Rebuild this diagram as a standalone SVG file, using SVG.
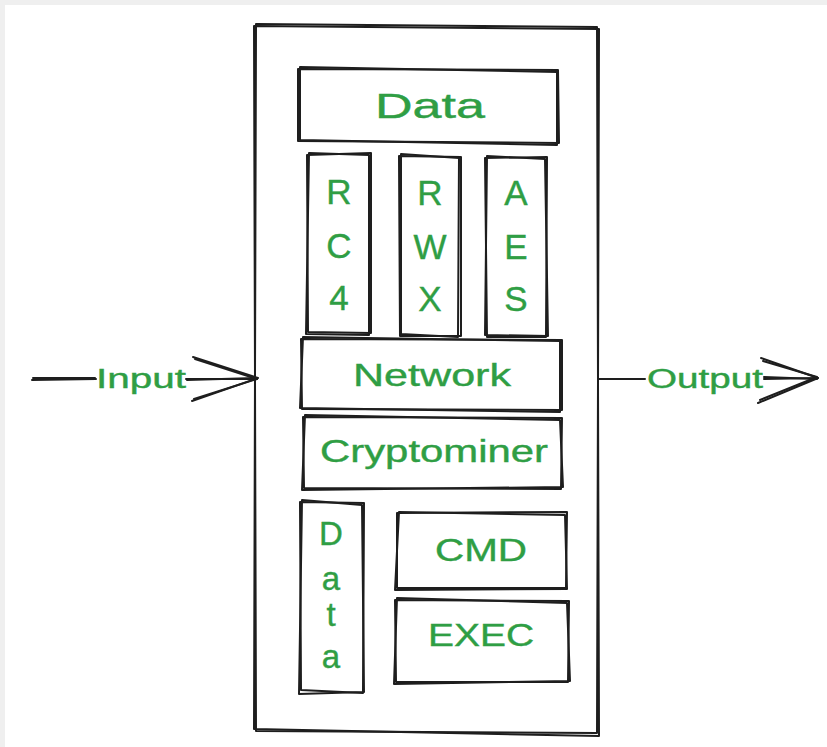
<svg xmlns="http://www.w3.org/2000/svg" width="827" height="747" viewBox="0 0 827 747">
<style>
.s{fill:none;stroke:#1e1e1e;stroke-width:2;stroke-linecap:round;stroke-linejoin:round}
.t{fill:#2f9e44;stroke:#2f9e44;stroke-width:0.4;font-family:"Liberation Sans","Noto Sans",sans-serif;text-anchor:middle}
.b{font-size:35px}
.m{font-size:32px}
.v{font-size:33px}
.l{font-size:27px}
</style>
<rect x="0" y="0" width="827" height="747" fill="#efefef"/>
<rect x="5" y="5" width="822" height="742" fill="#ffffff"/>
<g id="container">
<path class="s" d="M254 26 L599 29 L597 733 L256 731 Z"/>
<path class="s" d="M256 24 L597 27 L599 736 L254 729 Z"/>
</g>
<g id="data-top">
<path class="s" d="M298 69 L558 70 L559 143 L298 141 Z"/>
<path class="s" d="M300 67 L557 72 L557 145 L300 140 Z"/>
<text class="t b" x="430" y="118" textLength="110" lengthAdjust="spacingAndGlyphs">Data</text>
</g>
<g id="rc4">
<path class="s" d="M307 155 L371 153 L371 333 L308 332 Z"/>
<path class="s" d="M309 153 L369 155 L369 335 L306 334 Z"/>
<text class="t b" x="339" y="204">R</text>
<text class="t b" x="339" y="258">C</text>
<text class="t b" x="339" y="310">4</text>
</g>
<g id="rwx">
<path class="s" d="M399 156 L461 157 L461 336 L400 336 Z"/>
<path class="s" d="M401 154 L459 158 L458 337 L401 334 Z"/>
<text class="t b" x="430" y="205">R</text>
<text class="t b" x="430" y="259">W</text>
<text class="t b" x="430" y="311">X</text>
</g>
<g id="aes">
<path class="s" d="M485 158 L547 157 L546 337 L487 337 Z"/>
<path class="s" d="M487 156 L545 159 L548 336 L485 335 Z"/>
<text class="t b" x="516" y="205">A</text>
<text class="t b" x="516" y="259">E</text>
<text class="t b" x="516" y="311">S</text>
</g>
<g id="network">
<path class="s" d="M301 339 L562 340 L562 410 L302 409 Z"/>
<path class="s" d="M303 337 L560 341 L560 412 L300 408 Z"/>
<text class="t m" x="432" y="386" textLength="158" lengthAdjust="spacingAndGlyphs">Network</text>
</g>
<g id="cryptominer">
<path class="s" d="M303 417 L562 418 L561 489 L304 488 Z"/>
<path class="s" d="M305 415 L560 420 L563 487 L302 490 Z"/>
<text class="t m" x="434" y="462" textLength="228" lengthAdjust="spacingAndGlyphs">Cryptominer</text>
</g>
<g id="data-vertical">
<path class="s" d="M300 502 L364 503 L363 693 L301 690 Z"/>
<path class="s" d="M302 500 L362 505 L364 692 L299 694 Z"/>
<text class="t v" x="331" y="545">D</text>
<text class="t v" x="331" y="590">a</text>
<text class="t v" x="331" y="626">t</text>
<text class="t v" x="331" y="668">a</text>
</g>
<g id="cmd">
<path class="s" d="M397 513 L567 512 L566 588 L397 588 Z"/>
<path class="s" d="M399 512 L565 515 L567 589 L395 590 Z"/>
<text class="t m" x="481" y="561" textLength="92" lengthAdjust="spacingAndGlyphs">CMD</text>
</g>
<g id="exec">
<path class="s" d="M395 600 L569 601 L568 682 L396 682 Z"/>
<path class="s" d="M397 598 L567 603 L570 681 L394 684 Z"/>
<text class="t m" x="481" y="646" textLength="106" lengthAdjust="spacingAndGlyphs">EXEC</text>
</g>
<g id="connectors">
<path class="s" d="M32 380 L96 379 M186 379 L257 379"/>
<path class="s" d="M33 378 L95 378 M187 380 L256 378"/>
<path class="s" d="M193 357 L258 378 L192 401"/>
<path class="s" d="M195 359 L257 379 L194 399"/>
<text class="t l" x="141" y="388" textLength="90" lengthAdjust="spacingAndGlyphs">Input</text>
<path class="s" d="M599 379 L645 379 M764 379 L818 378"/>
<path class="s" d="M764 377 L817 379"/>
<path class="s" d="M761 358 L818 378 L758 403"/>
<path class="s" d="M763 361 L817 377 L760 400"/>
<text class="t l" x="705" y="388" textLength="116" lengthAdjust="spacingAndGlyphs">Output</text>
</g>
</svg>
